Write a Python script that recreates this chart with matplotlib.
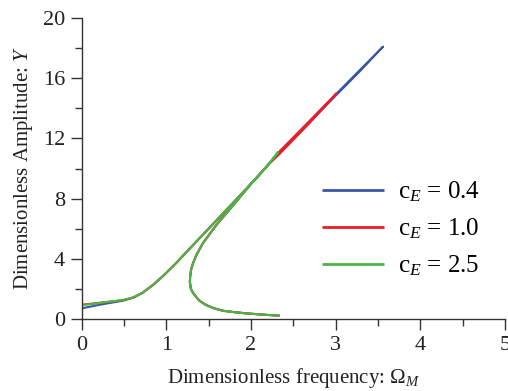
import matplotlib
matplotlib.use("Agg")
import matplotlib.pyplot as plt
from matplotlib.ticker import MultipleLocator

plt.rcParams['font.family'] = ['Liberation Serif', 'DejaVu Serif']
plt.rcParams['mathtext.fontset'] = 'custom'
plt.rcParams['mathtext.rm'] = 'Liberation Serif'
plt.rcParams['mathtext.it'] = 'Liberation Serif:italic'

labels = ["c$_{\\mathit{E}}$ = 0.4", "c$_{\\mathit{E}}$ = 1.0", "c$_{\\mathit{E}}$ = 2.5"]
colors = ["#3a57a7", "#ee1d25", "#4bb544"]

# frequency / amplitude traces: upper branch -> peak -> unstable branch -> lower branch
omega_04 = [0.0, 0.21, 0.49, 0.61, 0.72, 0.84, 0.96, 1.12, 1.275, 1.49, 1.75, 1.944, 2.15, 2.34,
            2.7, 3.0, 3.3, 3.56,
            3.3, 3.0, 2.7, 2.34, 2.22, 2.02, 1.79, 1.59, 1.43, 1.354, 1.314, 1.292, 1.28, 1.277,
            1.29, 1.314, 1.354, 1.39, 1.47, 1.56, 1.67, 1.8, 1.94, 2.1, 2.34]
amp_04 = [0.71, 0.95, 1.22, 1.42, 1.75, 2.26, 2.86, 3.75, 4.68, 5.95, 7.5, 8.65, 9.9, 11.15,
          13.2, 14.92, 16.62, 18.1,
          16.55, 14.84, 13.1, 11.0, 10.35, 9.12, 7.57, 6.25, 5.03, 4.25, 3.7, 3.3, 2.8, 2.45,
          2.0, 1.75, 1.45, 1.22, 0.93, 0.72, 0.55, 0.46, 0.38, 0.31, 0.22]

omega_10 = [0.0, 0.21, 0.49, 0.61, 0.72, 0.84, 0.96, 1.12, 1.275, 1.49, 1.75, 1.944, 2.15, 2.34,
            2.7, 3.01,
            2.7, 2.34, 2.22, 2.02, 1.79, 1.59, 1.43, 1.354, 1.314, 1.292, 1.28, 1.277,
            1.29, 1.314, 1.354, 1.39, 1.47, 1.56, 1.67, 1.8, 1.94, 2.1, 2.34]
amp_10 = [0.95, 1.08, 1.26, 1.44, 1.75, 2.26, 2.86, 3.75, 4.68, 5.95, 7.5, 8.65, 9.9, 11.15,
          13.2, 15.0,
          13.08, 11.0, 10.35, 9.12, 7.57, 6.25, 5.03, 4.25, 3.7, 3.3, 2.8, 2.45,
          2.0, 1.75, 1.45, 1.22, 0.93, 0.72, 0.55, 0.46, 0.38, 0.31, 0.22]

omega_25 = [0.0, 0.0, 0.21, 0.49, 0.61, 0.72, 0.84, 0.96, 1.12, 1.275, 1.49, 1.75, 1.944, 2.15, 2.32,
            2.22, 2.02, 1.79, 1.59, 1.43, 1.354, 1.314, 1.292, 1.28, 1.277,
            1.29, 1.314, 1.354, 1.39, 1.47, 1.56, 1.67, 1.8, 1.94, 2.1, 2.34]
amp_25 = [0.05, 0.92, 1.07, 1.26, 1.44, 1.75, 2.26, 2.86, 3.75, 4.68, 5.95, 7.5, 8.65, 9.9, 11.1,
          10.35, 9.12, 7.57, 6.25, 5.03, 4.25, 3.7, 3.3, 2.8, 2.45,
          2.0, 1.75, 1.45, 1.22, 0.93, 0.72, 0.55, 0.46, 0.38, 0.31, 0.22]

fig = plt.figure(figsize=(5.08, 3.91), dpi=100)
ax = fig.add_axes([0.161, 0.184, 0.833, 0.770])

series = [(omega_04, amp_04), (omega_10, amp_10), (omega_25, amp_25)]
for (x, y), c, lab in zip(series, colors, labels):
    ax.plot(x, y, color=c, lw=1.5, label=lab, solid_capstyle='butt', solid_joinstyle='round')

ax.set_xlim(0, 5)
ax.set_ylim(0, 20)
ax.xaxis.set_major_locator(MultipleLocator(1))
ax.xaxis.set_minor_locator(MultipleLocator(0.5))
ax.yaxis.set_major_locator(MultipleLocator(4))
ax.yaxis.set_minor_locator(MultipleLocator(2))

for s in ['top', 'right']:
    ax.spines[s].set_visible(False)
for s in ['left', 'bottom']:
    ax.spines[s].set_color('#333333')
    ax.spines[s].set_linewidth(1.0)

ax.tick_params(which='major', direction='out', length=8, width=1.0, color='#333333',
               labelsize=16, labelcolor='#222222', pad=4)
ax.tick_params(which='minor', direction='out', length=5, width=1.0, color='#333333')

ax.set_xlabel("Dimensionless frequency: $\\Omega_{\\mathit{M}}$", fontsize=15, color='#222222', labelpad=8)
ax.set_ylabel("Dimensionless Amplitude: $\\mathit{Y}$", fontsize=15, color='#222222', labelpad=6)

leg = ax.legend(loc='center left', bbox_to_anchor=(0.544, 0.299), frameon=False,
                fontsize=18, handlelength=2.5, handletextpad=0.56, labelspacing=0.5,
                borderaxespad=0, borderpad=0.4)
for line in leg.get_lines():
    line.set_linewidth(2.0)

fig.savefig("out.png", dpi=100)
